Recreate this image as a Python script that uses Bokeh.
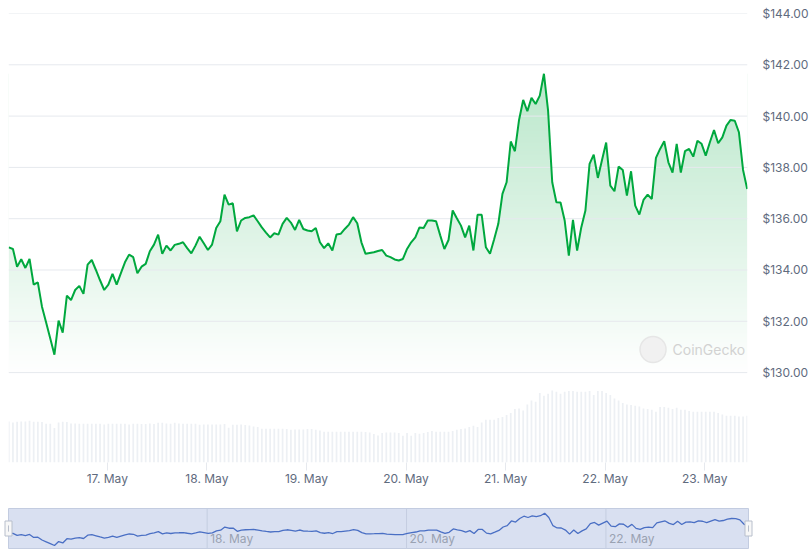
import numpy as np
import pandas as pd
from bokeh.plotting import figure
from bokeh.models import (Range1d, FixedTicker, NumeralTickFormatter,
                          DatetimeTickFormatter, Label)
from bokeh.embed import file_html
from bokeh.resources import INLINE

# ---------------- data (hourly) ----------------
start_time = "2024-05-16 00:15"
price = [
    134.88, 134.82, 134.13, 134.42, 134.08, 134.43, 133.43, 133.52, 132.57, 131.95,
    131.33, 130.70, 132.03, 131.56, 133.00, 132.83, 133.22, 133.38, 133.07, 134.21,
    134.39, 134.00, 133.60, 133.22, 133.43, 133.85, 133.43, 133.87, 134.30, 134.60,
    134.50, 133.87, 134.13, 134.24, 134.73, 134.99, 135.38, 134.63, 134.95, 134.76,
    134.98, 135.02, 135.08, 134.85, 134.65, 134.95, 135.30, 135.04, 134.78, 134.99,
    135.64, 135.90, 136.94, 136.55, 136.60, 135.51, 135.93, 136.03, 136.06, 136.13,
    135.90, 135.66, 135.46, 135.27, 135.43, 135.38, 135.80, 136.03, 135.85, 135.56,
    135.95, 135.60, 135.54, 135.51, 135.64, 135.08, 134.85, 135.04, 134.76, 135.38,
    135.41, 135.60, 135.77, 136.06, 135.82, 135.08, 134.63, 134.66, 134.69, 134.74,
    134.78, 134.56, 134.50, 134.41, 134.37, 134.43, 134.82, 135.08, 135.27, 135.66,
    135.64, 135.93, 135.93, 135.90, 135.35, 134.82, 135.17, 136.32, 136.02, 135.73,
    135.27, 135.73, 134.76, 136.15, 136.15, 134.89, 134.63, 135.20, 135.80, 136.97,
    137.42, 139.01, 138.63, 139.85, 140.63, 140.19, 140.71, 140.47, 140.80, 141.65,
    140.21, 137.42, 136.64, 136.63, 135.93, 134.56, 135.95, 134.76, 135.66, 136.32,
    138.14, 138.50, 137.59, 138.29, 138.97, 137.29, 137.07, 138.03, 137.90, 136.90,
    137.85, 136.51, 136.16, 136.73, 136.94, 136.77, 138.37, 138.72, 139.02, 138.20,
    137.80, 138.92, 137.80, 138.63, 138.72, 138.42, 139.04, 138.92, 138.46, 138.98,
    139.46, 138.94, 139.17, 139.63, 139.85, 139.82, 139.37, 137.90, 137.16,
]
volume = [  # million USD per hour
    410, 400, 407, 410, 410, 417, 407, 407, 404, 387,
    387, 344, 400, 407, 404, 390, 390, 387, 387, 387,
    387, 387, 387, 380, 387, 387, 387, 387, 387, 380,
    387, 387, 384, 384, 390, 384, 397, 397, 390, 387,
    397, 390, 387, 387, 387, 387, 377, 380, 380, 380,
    380, 380, 384, 347, 377, 377, 380, 374, 370, 360,
    354, 337, 337, 337, 337, 337, 337, 334, 327, 330,
    330, 330, 334, 334, 327, 320, 307, 307, 307, 307,
    307, 307, 307, 307, 307, 307, 304, 300, 284, 270,
    294, 300, 300, 300, 294, 267, 294, 267, 294, 287,
    294, 304, 314, 307, 307, 307, 307, 314, 327, 334,
    340, 354, 367, 354, 400, 427, 427, 427, 444, 454,
    474, 494, 534, 540, 520, 580, 620, 607, 694, 667,
    687, 720, 707, 687, 707, 714, 714, 707, 707, 707,
    714, 674, 714, 714, 694, 674, 640, 620, 594, 580,
    574, 567, 560, 540, 534, 527, 507, 554, 554, 547,
    534, 547, 527, 527, 514, 507, 507, 507, 507, 507,
    507, 494, 480, 467, 467, 467, 460, 460, 467,
]
price_ticks = [130, 132, 134, 136, 138, 140, 142, 144]
day_ticks = ["2024-05-17", "2024-05-18", "2024-05-19", "2024-05-20",
             "2024-05-21", "2024-05-22", "2024-05-23"]
nav_ticks = ["2024-05-18", "2024-05-20", "2024-05-22"]
nav_labels = ["18. May", "20. May", "22. May"]

# ---------------- derived ----------------
HOUR = 3600000.0
t = pd.date_range(start_time, periods=len(price), freq="h")
t_ms = (t.view("int64") // 10**6).astype(float)
x0 = t_ms[0] - 0.07 * HOUR
x1 = t_ms[0] + 178.07 * HOUR
def ms(d):
    return pd.Timestamp(d).value / 1e6

GREEN = "#00a83e"
TXT = "#5f6b7e"
FONT = "Inter"

xr = Range1d(x0, x1)
p = figure(width=811, height=492, x_range=xr, y_range=Range1d(126.495, 144),
           x_axis_type="datetime", y_axis_location="right",
           output_backend="svg", toolbar_location=None,
           min_border_left=8, min_border_right=63, min_border_top=13, min_border_bottom=30)
p.outline_line_color = None
p.xgrid.visible = False
p.ygrid.visible = False

# volume on an extra range
p.extra_y_ranges = {"vol": Range1d(0, 4490)}
p.vbar(x=t_ms, top=volume, width=0.42 * HOUR, bottom=0, y_range_name="vol",
       fill_color="#edf0f4", line_color=None)

# gradient area under line: gradient image masked above the line by white
pmax = max(price)
ny = 200
frac = np.linspace(0, 1, ny)  # bottom -> top
alpha = 0.27 * frac
r = (255 * (1 - alpha) + 0 * alpha).astype(np.uint32)
g = (255 * (1 - alpha) + 168 * alpha).astype(np.uint32)
b = (255 * (1 - alpha) + 62 * alpha).astype(np.uint32)
img = (255 << 24 | b << 16 | g << 8 | r).astype(np.uint32).reshape(ny, 1)
p.image_rgba(image=[img], x=t_ms[0], y=price_ticks[0], dw=t_ms[-1] - t_ms[0],
             dh=pmax - price_ticks[0])
p.varea(x=t_ms, y1=price, y2=[price_ticks[-1] + 1] * len(price), fill_color="white")

# gridlines
p.segment(x0=[x0] * len(price_ticks), x1=[x1] * len(price_ticks), y0=price_ticks,
          y1=price_ticks, line_color="#e6e9ee", line_width=1)

# watermark
wm_t = t_ms[0] + 160 * HOUR
p.scatter(x=[t_ms[0] + 155.3 * HOUR], y=[130.9], size=26, marker="circle",
          fill_color="#f1f1f1", line_color="#e6e6e6", line_width=1.5)
p.add_layout(Label(x=wm_t, y=130.9, text="CoinGecko", text_color="#d2d2d2",
                   text_font=FONT, text_font_size="14px", text_baseline="middle"))

# price line
p.line(t_ms, price, line_color=GREEN, line_width=2)

# axes
ya = p.yaxis[0]
ya.ticker = FixedTicker(ticks=price_ticks)
ya.formatter = NumeralTickFormatter(format="$0,0.00")
ya.axis_line_color = None
ya.major_tick_line_color = None
ya.minor_tick_line_color = None
ya.major_tick_in = 0
ya.major_tick_out = 0
ya.minor_tick_in = 0
ya.minor_tick_out = 0
ya.major_label_standoff = 15
ya.major_label_text_color = TXT
ya.major_label_text_font = FONT
ya.major_label_text_font_size = "12px"

xa = p.xaxis[0]
xa.ticker = FixedTicker(ticks=[ms(d) for d in day_ticks])
xa.formatter = DatetimeTickFormatter(days="%d. %b", months="%d. %b", hours="%d. %b")
xa.axis_line_color = None
xa.major_tick_line_color = "#e6e9ee"
xa.major_tick_in = 0
xa.major_tick_out = 8
xa.minor_tick_line_color = None
xa.major_label_standoff = 0
xa.major_label_text_color = TXT
xa.major_label_text_font = FONT
xa.major_label_text_font_size = "12px"

# ---------------- navigator ----------------
k = (x1 - x0) / 740.0  # ms per px
nav = figure(width=811, height=60, x_range=Range1d(x0 - 8 * k, x1 + 63 * k),
             y_range=Range1d(129.0, 143.92),
             x_axis_location=None, y_axis_location=None,
             output_backend="svg", toolbar_location=None,
             min_border_left=0, min_border_right=0, min_border_top=14, min_border_bottom=2)
nav.outline_line_color = None
nav.xgrid.visible = False
nav.ygrid.visible = False
nav.quad(left=[x0], right=[x1], bottom=[129.68], top=[143.24],
         fill_color="#d9e0f1", line_color="#c3cce0", line_width=1)
for d, lab in zip(nav_ticks, nav_labels):
    nav.segment(x0=[ms(d)], x1=[ms(d)], y0=[129.68], y1=[143.24],
                line_color="#c5cde0", line_width=1)
    nav.add_layout(Label(x=ms(d), y=129.68, x_offset=3, y_offset=2, text=lab,
                         text_color="#9aa2b2", text_font=FONT, text_font_size="12px"))
nav.line(t_ms, price, line_color="#4a6fc4", line_width=1.3)
# handles
for hx in (x0, x1):
    nav.rect(x=[hx], y=[136.46], width=7, height=15, width_units="screen",
             height_units="screen", fill_color="#f7f7f7", line_color="#b8bfcc")
    nav.segment(x0=[hx], x1=[hx], y0=[135.4], y1=[137.5], line_color="#b8bfcc",
                line_width=1)

open("out.html", "w").write(file_html([p, nav], INLINE))
